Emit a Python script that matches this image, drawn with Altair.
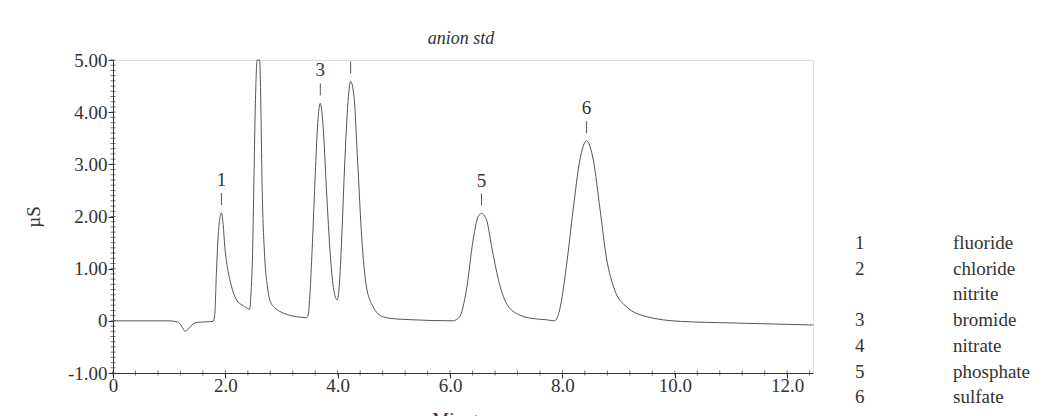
import altair as alt
import pandas as pd

# Conductivity trace of the anion standard (minutes, µS)
minutes = [
    0.0, 0.5, 1.0, 1.15, 1.22, 1.28, 1.33, 1.40, 1.50, 1.65, 1.78,
    1.81, 1.84, 1.87, 1.90, 1.93, 1.96, 1.99, 2.04, 2.08, 2.14, 2.20,
    2.30, 2.38, 2.43, 2.46, 2.49, 2.51, 2.54, 2.565, 2.61, 2.635, 2.65,
    2.70, 2.75, 2.79, 2.88, 2.97, 3.10, 3.27, 3.45, 3.48, 3.51, 3.55,
    3.60, 3.645, 3.69, 3.74, 3.80, 3.87, 3.93, 3.99, 4.03, 4.07, 4.13,
    4.19, 4.23, 4.29, 4.35, 4.43, 4.51, 4.63, 4.80, 5.00, 5.34, 6.05,
    6.17, 6.29, 6.41, 6.50, 6.56, 6.65, 6.74, 6.86, 7.00, 7.24, 7.50,
    7.72, 7.86, 7.95, 8.07, 8.19, 8.31, 8.43, 8.55, 8.67, 8.78, 8.93,
    9.14, 9.50, 10.1, 11.0, 12.46,
]
conductivity = [
    0.0, 0.0, 0.0, -0.02, -0.10, -0.20, -0.17, -0.08, -0.03, -0.02, -0.01,
    0.10, 0.90, 1.60, 1.95, 2.07, 1.85, 1.42, 1.00, 0.79, 0.55, 0.40,
    0.30, 0.25, 0.22, 0.60, 1.55, 2.80, 4.40, 5.00, 5.00, 3.90, 2.83,
    1.23, 0.65, 0.40, 0.25, 0.18, 0.12, 0.08, 0.06, 0.15, 0.60, 1.50,
    2.80, 3.80, 4.17, 3.72, 2.51, 1.23, 0.59, 0.40, 0.70, 1.55, 3.15,
    4.30, 4.59, 4.30, 3.15, 1.55, 0.66, 0.27, 0.08, 0.04, 0.02, 0.0,
    0.08, 0.59, 1.55, 2.00, 2.06, 1.93, 1.42, 0.79, 0.34, 0.11, 0.04,
    0.02, 0.0, 0.21, 1.04, 2.13, 3.08, 3.45, 3.08, 2.13, 1.23, 0.59,
    0.27, 0.08, -0.01, -0.04, -0.08,
]

# Peak markers (retention time, apex height, printed number)
peak_times = [1.93, 3.69, 4.23, 6.56, 8.43]
peak_heights = [2.07, 4.17, 4.59, 2.06, 3.45]
peak_numbers = ["1", "3", "", "5", "6"]

# Key of peak numbers
key_numbers = ["1", "2", "", "3", "4", "5", "6"]
key_names = ["fluoride", "chloride", "nitrite", "bromide", "nitrate", "phosphate", "sulfate"]

chart_title = "anion std"

x_major = [0, 2, 4, 6, 8, 10, 12]
y_major = [-1, 0, 1, 2, 3, 4, 5]
x_minor = [round(0.4 * i, 1) for i in range(32)]
y_minor = [round(-1 + 0.1 * i, 1) for i in range(61)]

FONT = "Liberation Serif"
INK = "#333333"
TRACE = "#555555"
W, H = 700, 313

trace = pd.DataFrame({"t": minutes, "uS": conductivity})
peaks = pd.DataFrame({"t": peak_times, "h": peak_heights, "num": peak_numbers})
key = pd.DataFrame({"i": list(range(len(key_names))), "num": key_numbers, "name": key_names})

x_scale = alt.Scale(domain=[0, 12.46], nice=False, zero=False)
y_scale = alt.Scale(domain=[-1, 5], nice=False, zero=False)

x_axis = alt.Axis(
    values=x_major,
    labelExpr="datum.value == 0 ? '0' : format(datum.value, '.1f')",
    title="Minutes", titleFont=FONT, titleFontSize=19, titleFontWeight="normal",
    titleColor=INK, titleBaseline="top", titleY=37,
    labelFont=FONT, labelFontSize=19, labelColor=INK, labelBaseline="alphabetic",
    labelPadding=13, labelFlush=False, labelOverlap=False,
    tickSize=5, tickColor=INK, domainColor=INK, domainWidth=1, grid=False,
)
y_axis = alt.Axis(
    values=y_major,
    labelExpr=(
        "datum.value == 0 ? '0' : "
        "(datum.value < 0 ? '-' : '') + format(abs(datum.value), '.2f')"
    ),
    title="µS", titleFont=FONT, titleFontSize=19, titleFontWeight="normal",
    titleColor=INK, titleX=-80, titleY=H / 2, titleAngle=270,
    titleAlign="center", titleBaseline="middle",
    labelFont=FONT, labelFontSize=19, labelColor=INK, labelPadding=1,
    labelFlush=False, labelOverlap=False,
    tickSize=5, tickColor=INK, domainColor=INK, domainWidth=1, grid=False,
)

line = alt.Chart(trace).mark_line(
    color=TRACE, strokeWidth=1, interpolate="monotone"
).encode(
    x=alt.X("t:Q", scale=x_scale, axis=x_axis),
    y=alt.Y("uS:Q", scale=y_scale, axis=y_axis),
)

marker_rules = alt.Chart(peaks).transform_calculate(
    y1="datum.h + 0.15", y2="datum.h + 0.38"
).mark_rule(color=TRACE, strokeWidth=1).encode(
    x=alt.X("t:Q", scale=x_scale),
    y=alt.Y("y1:Q", scale=y_scale),
    y2="y2:Q",
)

marker_text = alt.Chart(peaks).transform_calculate(
    ly="datum.h + 0.63"
).mark_text(font=FONT, fontSize=19, color=INK, baseline="middle").encode(
    x=alt.X("t:Q", scale=x_scale),
    y=alt.Y("ly:Q", scale=y_scale),
    text="num:N",
)

minor_y = alt.Chart(pd.DataFrame({"v": y_minor})).mark_tick(
    orient="horizontal", size=5, thickness=1, color=INK
).encode(x=alt.value(0), y=alt.Y("v:Q", scale=y_scale))

minor_x = alt.Chart(pd.DataFrame({"v": x_minor})).mark_tick(
    orient="vertical", size=5, thickness=1, color=INK
).encode(y=alt.value(H), x=alt.X("v:Q", scale=x_scale))

title_mark = alt.Chart(pd.DataFrame({"label": [chart_title]})).mark_text(
    font=FONT, fontStyle="italic", fontSize=18, color=INK,
    align="center", baseline="alphabetic",
).encode(x=alt.value(W / 2 - 2), y=alt.value(-16), text="label:N")

key_base = alt.Chart(key).transform_calculate(py="183 + datum.i * 25.7")
key_num = key_base.mark_text(
    font=FONT, fontSize=19, color=INK, align="left", baseline="middle"
).encode(x=alt.value(855 - 113), y=alt.Y("py:Q", scale=None), text="num:N")
key_name = key_base.mark_text(
    font=FONT, fontSize=19, color=INK, align="left", baseline="middle"
).encode(x=alt.value(953 - 113), y=alt.Y("py:Q", scale=None), text="name:N")

chart = alt.layer(
    line, marker_rules, marker_text, minor_y, minor_x, title_mark, key_num, key_name
).properties(
    width=W, height=H,
    autosize=alt.AutoSizeParams(type="none"),
    padding={"left": 113, "top": 60, "right": 243, "bottom": 43},
).configure_view(stroke=None).configure(background="white")

chart.save("out.html", embed_options={"renderer": "svg", "actions": False})
